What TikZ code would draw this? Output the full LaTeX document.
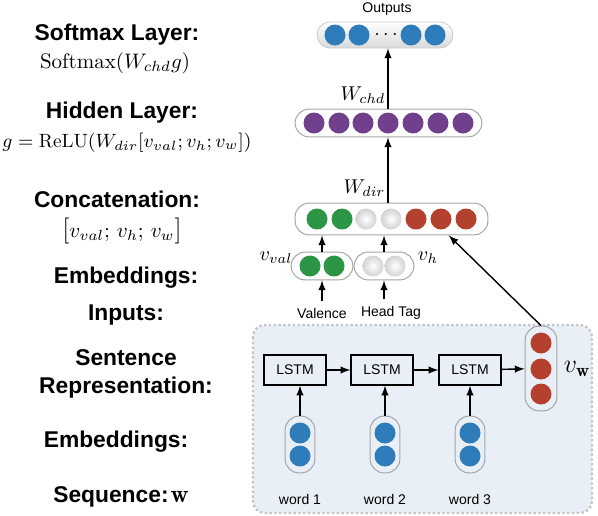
\RequirePackage{fix-cm}
\documentclass[tikz,border=0pt]{standalone}
\usepackage{fontspec}
\setsansfont{Liberation Sans}
\usetikzlibrary{calc,positioning,arrows,fit,shapes}
\definecolor{outc}{RGB}{46,125,186}
\definecolor{hidc}{RGB}{112,64,140}
\definecolor{valc}{RGB}{44,150,70}
\definecolor{wrdc}{RGB}{180,65,45}
\definecolor{bgc}{RGB}{233,239,246}
\newcommand\bigbr[1]{{\fontsize{13}{13}\selectfont$#1$}}

\begin{document}
\begin{tikzpicture}[x=0.5pt,y=-0.5pt,>=latex,
  ele/.style={circle,minimum size=10.5pt,inner sep=0pt},
  grey/.style={ele,inner color=white,outer color=gray!35},
  every fit/.style={draw=gray!70,rounded corners=7pt,inner xsep=4pt,inner ysep=1.5pt,line width=.5pt},
  cell/.style={draw,line width=.6pt,minimum width=31pt,minimum height=15pt,font=\fontsize{7}{8}\sffamily},
  hd/.style={font=\fontsize{11.4}{14}\sffamily\bfseries,align=center,inner sep=1pt},
  mth/.style={font=\fontsize{10.5}{12}\selectfont,inner sep=1pt},
  sm/.style={font=\fontsize{7}{8}\sffamily},
  arr/.style={->,line width=.7pt}]
  \useasboundingbox (0,0) rectangle (598,515);
  % sentence part
  \draw[draw=gray!45,line width=1.2pt,dash pattern=on 1.2pt off 1.2pt,fill=bgc,rounded corners=6pt] (253,325) rectangle (592,513);

  % left labels
  \node[hd] (sl) at (117,35) {Softmax Layer:};
  \node[mth] (sf) at (115,63) {$\mathrm{Softmax}(W_{chd}g)$};
  \node[hd] (hl) at (122,113) {Hidden Layer:};
  \node[mth,font=\fontsize{9.6}{12}\selectfont] (gf) at (127,143) {$g=\mathrm{ReLU}(W_{dir}[v_{val};v_h;v_w])$};
  \node[hd] (cl) at (117,199) {Concatenation:};
  \node[mth] (cf) at (122,231) {\bigbr{[}$v_{val};\,v_h;\,v_w$\bigbr{]}};
  \node[hd] (el) at (126,278) {Embeddings:};
  \node[hd] (il) at (126,315) {Inputs:};
  \node[hd] (rl) at (126,374) {Sentence\\Representation:};
  \node[hd] (wl) at (116,442) {Embeddings:};
  \node[hd] (ql) at (121,497) {Sequence:\hspace{1pt}{\fontsize{12.5}{14}\selectfont$\mathbf{w}$}};

  % outputs
  \node[sm] (ol) at (387,9) {Outputs};
  \node[draw=gray!40,rounded corners=6.5pt,top color=white,bottom color=gray!30,minimum width=68pt,minimum height=13pt] (out) at (385,35) {};
  \node[ele,fill=outc] (o1) at (335,35) {};
  \node[ele,fill=outc] (o2) at (359,35) {};
  \node[font=\fontsize{10}{10}\selectfont] (dots) at (386,35) {$\cdots$};
  \node[ele,fill=outc] (o3) at (411,35) {};
  \node[ele,fill=outc] (o4) at (435,35) {};

  % hidden
  \node[ele,fill=hidc] (h1) at (314,123) {};
  \node[ele,fill=hidc] (h2) at (339,123) {};
  \node[ele,fill=hidc] (h3) at (363,123) {};
  \node[ele,fill=hidc] (h4) at (388,123) {};
  \node[ele,fill=hidc] (h5) at (413,123) {};
  \node[ele,fill=hidc] (h6) at (438,123) {};
  \node[ele,fill=hidc] (h7) at (463,123) {};
  \node[fit=(h1) (h7)] (hid) {};

  % concatenation
  \node[ele,fill=valc] (c1) at (317,219) {};
  \node[ele,fill=valc] (c2) at (342,219) {};
  \node[grey] (c3) at (366,219) {};
  \node[grey] (c4) at (391,219) {};
  \node[ele,fill=wrdc] (c5) at (416,219) {};
  \node[ele,fill=wrdc] (c6) at (441,219) {};
  \node[ele,fill=wrdc] (c7) at (466,219) {};
  \node[fit=(c1) (c7),inner xsep=5.5pt,inner ysep=2.5pt] (cat) {};

  % embeddings of the inputs
  \node[ele,fill=valc] (a1) at (310,266) {};
  \node[ele,fill=valc] (a2) at (334,266) {};
  \node[fit=(a1) (a2)] (val) {};
  \node[grey] (b1) at (373,266) {};
  \node[grey] (b2) at (395,266) {};
  \node[fit=(b1) (b2)] (hed) {};
  \node[font=\fontsize{10}{12}\selectfont] (vvl) at (276,258) {$v_{val}$};
  \node[font=\fontsize{10}{12}\selectfont] (vhl) at (428,258) {$v_h$};
  \node[sm] (vin) at (322,313) {Valence};
  \node[sm] (hin) at (391,313) {Head Tag};

  % lstm
  \node[cell] (l1) at (295,370) {LSTM};
  \node[cell] (l2) at (382,370) {LSTM};
  \node[cell] (l3) at (470,370) {LSTM};
  \node[ele,fill=wrdc] (w1) at (541,343) {};
  \node[ele,fill=wrdc] (w2) at (541,369) {};
  \node[ele,fill=wrdc] (w3) at (541,394) {};
  \node[fit=(w1) (w3),inner xsep=2.5pt,inner ysep=3pt] (vw) {};
  \node[font=\fontsize{13}{15}\selectfont] (vwl) at (577,369) {$v_{\mathbf{w}}$};

  % word embeddings
  \node[ele,fill=outc] (e11) at (300,433) {};
  \node[ele,fill=outc] (e12) at (300,456) {};
  \node[fit=(e11) (e12),inner xsep=2pt,inner ysep=3pt] (e1) {};
  \node[ele,fill=outc] (e21) at (385,433) {};
  \node[ele,fill=outc] (e22) at (385,456) {};
  \node[fit=(e21) (e22),inner xsep=2pt,inner ysep=3pt] (e2) {};
  \node[ele,fill=outc] (e31) at (470,433) {};
  \node[ele,fill=outc] (e32) at (470,456) {};
  \node[fit=(e31) (e32),inner xsep=2pt,inner ysep=3pt] (e3) {};
  \node[sm] (t1) at (300,499) {word 1};
  \node[sm] (t2) at (385,499) {word 2};
  \node[sm] (t3) at (470,499) {word 3};

  \draw[arr] (e1.north) -- (e1.north |- l1.south);
  \draw[arr] (e2.north) -- (e2.north |- l2.south);
  \draw[arr] (e3.north) -- (e3.north |- l3.south);
  \draw[arr] (l1) -- (l2);
  \draw[arr] (l2) -- (l3);
  \draw[arr] (l3) -- (vw);
  \draw[arr] (vw.north) -- (cat.-16);
  \draw[arr] (vin.north) -- (val.south);
  \draw[arr] (hed.south |- hin.north) -- (hed.south);
  \draw[arr] (val.north) -- (val.north |- cat.south);
  \draw[arr] (hed.north) -- (hed.north |- cat.south);
  \draw[arr] (h4 |- cat.north) -- node[left,font=\fontsize{10}{12}\selectfont,pos=.22,inner sep=1pt] {$W_{dir}$} (hid.south -| h4);
  \draw[arr] (hid.north -| h4) -- node[left,font=\fontsize{10}{12}\selectfont,pos=.22,inner sep=1pt] {$W_{chd}$} (out.south -| h4);
 \end{tikzpicture}
\end{document}
